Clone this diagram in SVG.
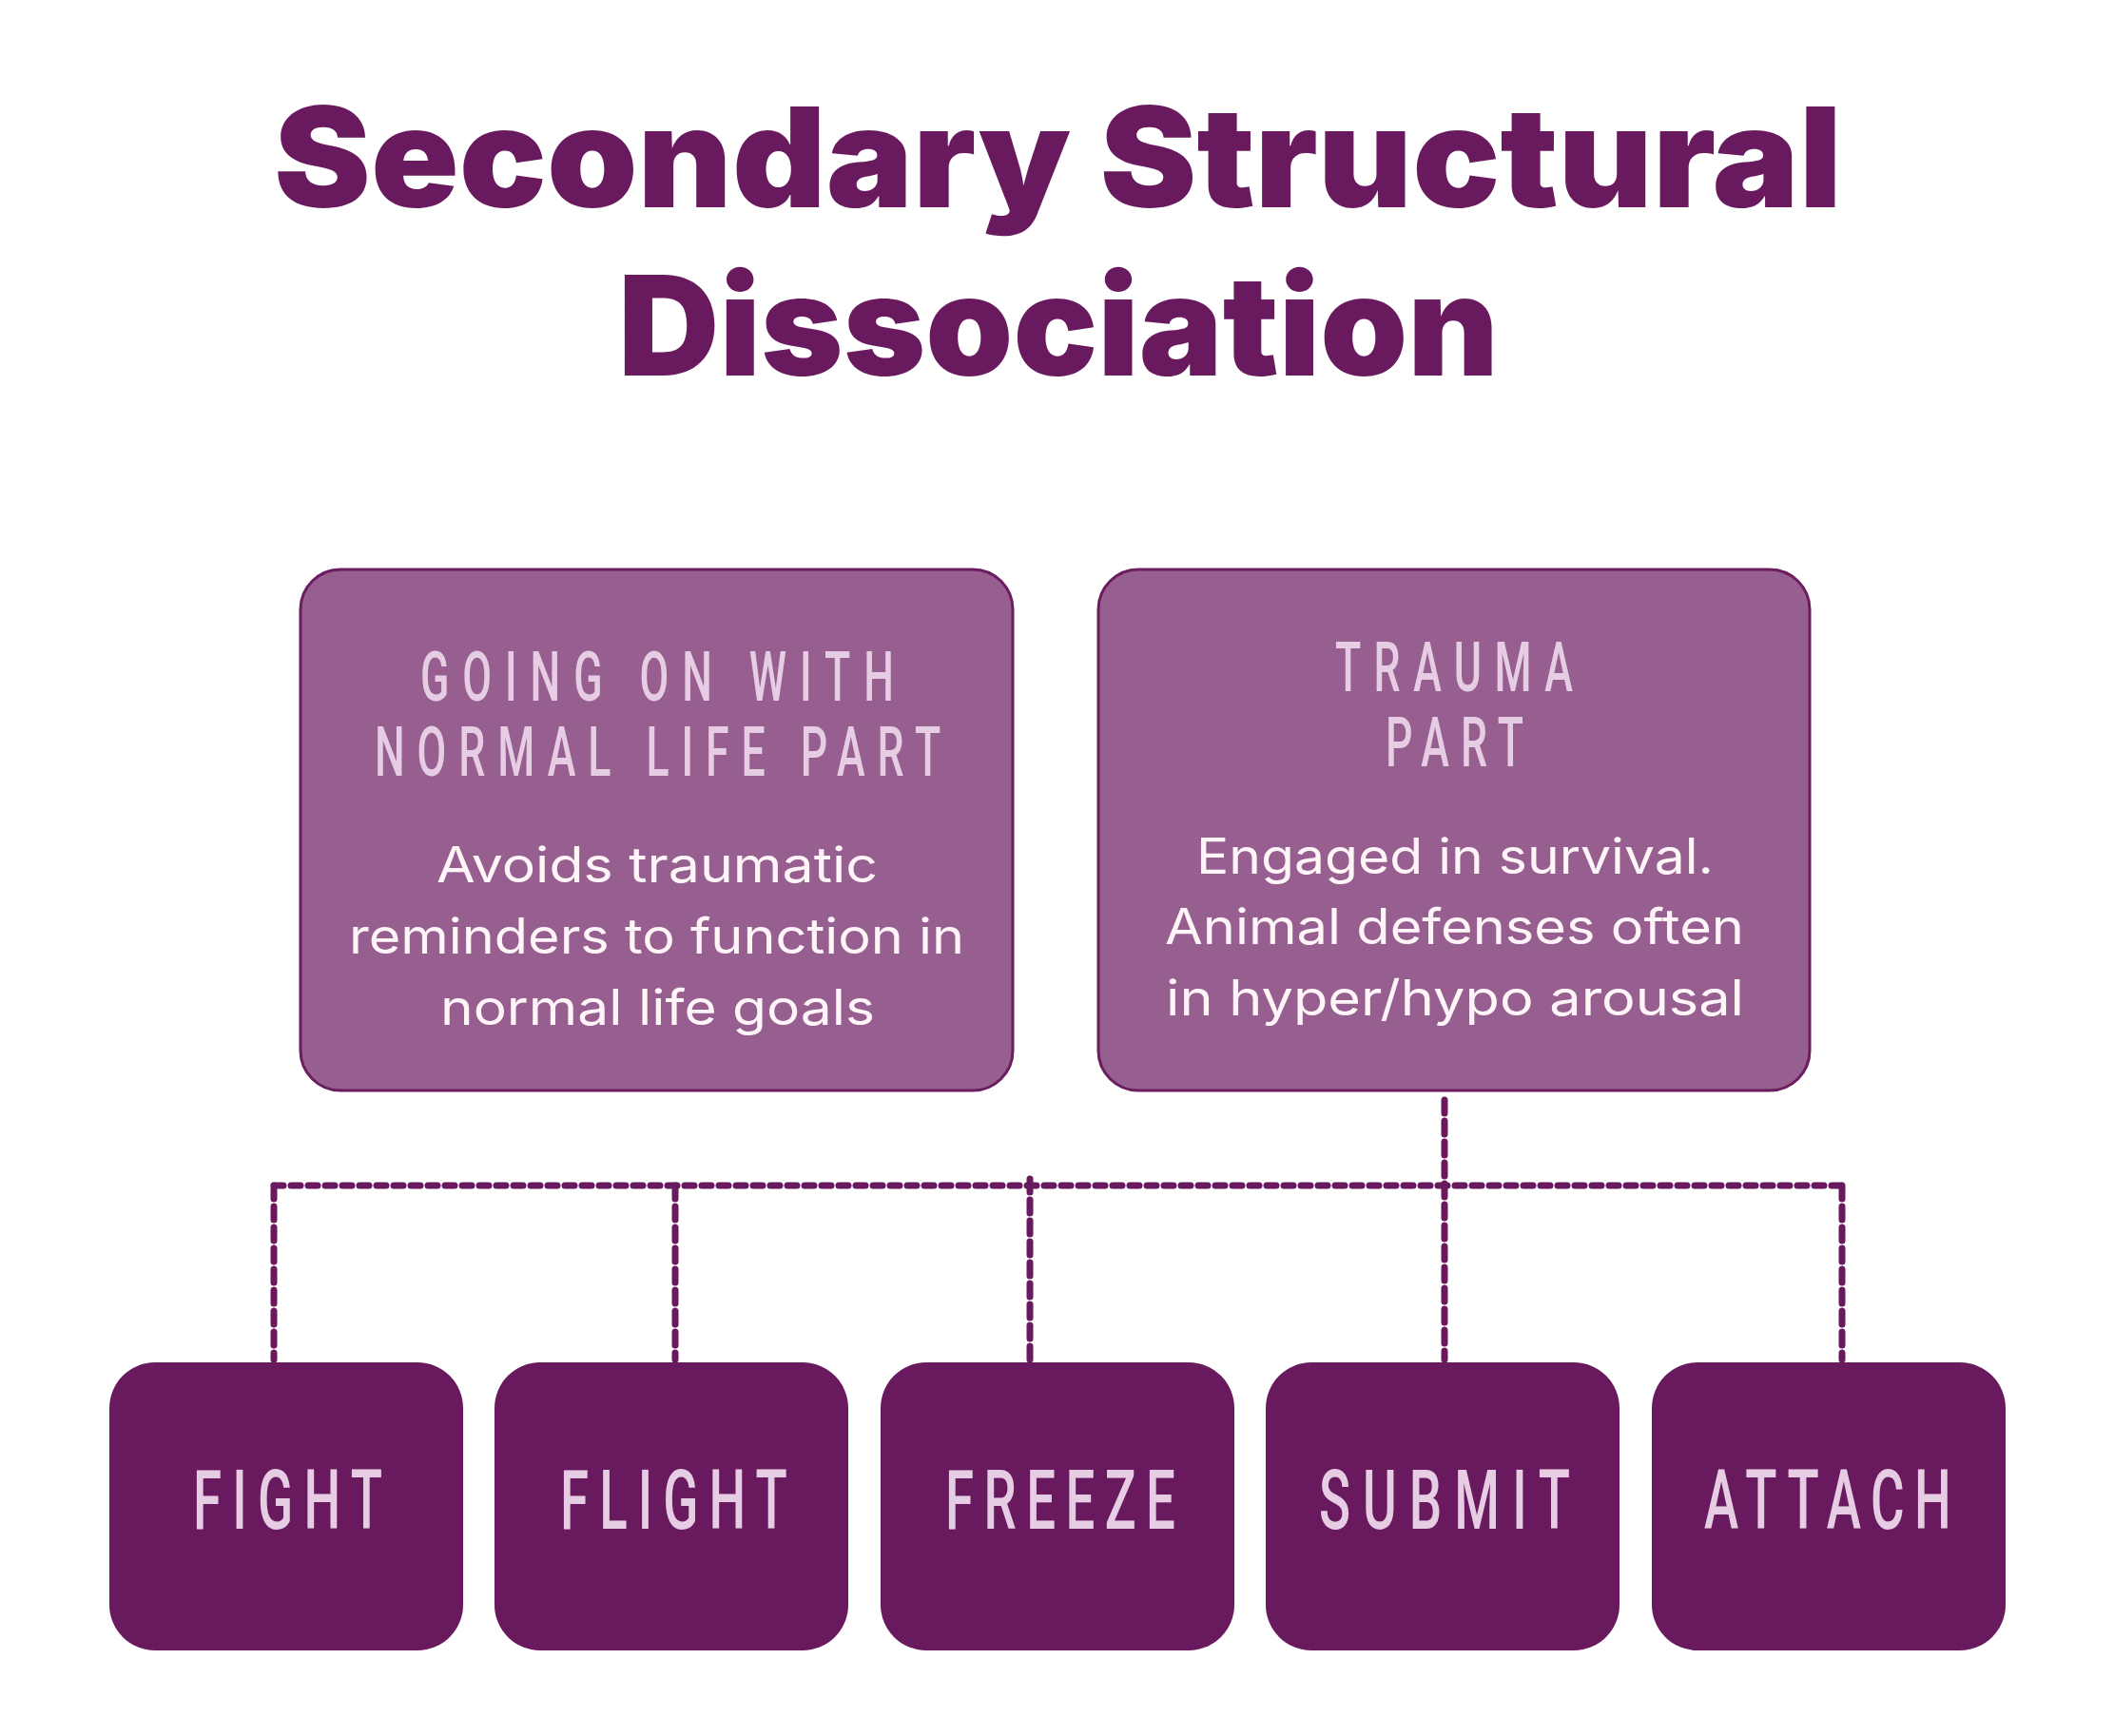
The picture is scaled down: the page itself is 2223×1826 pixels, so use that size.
<svg xmlns="http://www.w3.org/2000/svg" width="2223" height="1826" viewBox="0 0 2223 1826">
<style>
.title{font-family:Inter,"Lato","Liberation Sans",sans-serif;font-weight:900;font-size:146px;fill:#691a5f}
.part{fill:#965f8f;stroke:#6b1d60;stroke-width:3}
.head{font-family:Roboto,"Liberation Sans",sans-serif;font-weight:500;font-size:72px;fill:#e6cde4}
.body{font-family:Inter,"Noto Sans","Liberation Sans",sans-serif;font-weight:400;font-size:52px;fill:#fff5f9}
.def{fill:#691a5f}
.lab{font-family:Roboto,"Liberation Sans",sans-serif;font-weight:500;font-size:88px;fill:#e6cde4}
.h{fill:none;stroke:#691a5f;stroke-width:7;stroke-linecap:round;stroke-dasharray:10 8}
.v{fill:none;stroke:#691a5f;stroke-width:7;stroke-linecap:round;stroke-dasharray:14 8}
</style>
<rect width="2223" height="1826" fill="#ffffff"/>
<g id="title">
<text class="title" x="288" y="218" textLength="1649" lengthAdjust="spacingAndGlyphs">Secondary Structural</text>
<text class="title" x="650" y="395" textLength="926" lengthAdjust="spacingAndGlyphs">Dissociation</text>
</g>
<g id="connectors">
<line class="h" x1="288" y1="1247" x2="1936" y2="1247"/>
<line class="v" x1="288" y1="1247" x2="288" y2="1430"/>
<line class="v" x1="710" y1="1247" x2="710" y2="1430"/>
<line class="v" x1="1083" y1="1240" x2="1083" y2="1430"/>
<line class="v" x1="1519" y1="1157" x2="1519" y2="1430"/>
<line class="v" x1="1937" y1="1247" x2="1937" y2="1430"/>
</g>
<g id="normal-life-part">
<rect class="part" x="316" y="599" width="749" height="548" rx="42"/>
<g transform="translate(442 737) scale(0.62 1)"><text class="head" x="0" y="0" textLength="803" lengthAdjust="spacing">GOING ON WITH</text></g>
<g transform="translate(394 816) scale(0.62 1)"><text class="head" x="0" y="0" textLength="960" lengthAdjust="spacing">NORMAL LIFE PART</text></g>
<text class="body" x="459" y="928" textLength="464" lengthAdjust="spacingAndGlyphs">Avoids traumatic</text>
<text class="body" x="367" y="1003" textLength="647" lengthAdjust="spacingAndGlyphs">reminders to function in</text>
<text class="body" x="463" y="1078" textLength="457" lengthAdjust="spacingAndGlyphs">normal life goals</text>
</g>
<g id="trauma-part">
<rect class="part" x="1155" y="599" width="748" height="548" rx="42"/>
<g transform="translate(1404 727) scale(0.62 1)"><text class="head" x="0" y="0" textLength="403" lengthAdjust="spacing">TRAUMA</text></g>
<g transform="translate(1457 806) scale(0.62 1)"><text class="head" x="0" y="0" textLength="234" lengthAdjust="spacing">PART</text></g>
<text class="body" x="1258" y="919" textLength="544" lengthAdjust="spacingAndGlyphs">Engaged in survival.</text>
<text class="body" x="1225" y="993" textLength="609" lengthAdjust="spacingAndGlyphs">Animal defenses often</text>
<text class="body" x="1226" y="1068" textLength="608" lengthAdjust="spacingAndGlyphs">in hyper/hypo arousal</text>
</g>
<g id="fight">
<rect class="def" x="115" y="1433" width="372" height="303" rx="48"/>
<g transform="translate(203 1608) scale(0.62 1)"><text class="lab" x="0" y="0" textLength="321" lengthAdjust="spacing">FIGHT</text></g>
</g>
<g id="flight">
<rect class="def" x="520" y="1433" width="372" height="303" rx="48"/>
<g transform="translate(589 1608) scale(0.62 1)"><text class="lab" x="0" y="0" textLength="385" lengthAdjust="spacing">FLIGHT</text></g>
</g>
<g id="freeze">
<rect class="def" x="926" y="1433" width="372" height="303" rx="48"/>
<g transform="translate(994 1608) scale(0.62 1)"><text class="lab" x="0" y="0" textLength="390" lengthAdjust="spacing">FREEZE</text></g>
</g>
<g id="submit">
<rect class="def" x="1331" y="1433" width="372" height="303" rx="48"/>
<g transform="translate(1387 1608) scale(0.62 1)"><text class="lab" x="0" y="0" textLength="426" lengthAdjust="spacing">SUBMIT</text></g>
</g>
<g id="attach">
<rect class="def" x="1737" y="1433" width="372" height="303" rx="48"/>
<g transform="translate(1792 1608) scale(0.62 1)"><text class="lab" x="0" y="0" textLength="419" lengthAdjust="spacing">ATTACH</text></g>
</g>
</svg>
